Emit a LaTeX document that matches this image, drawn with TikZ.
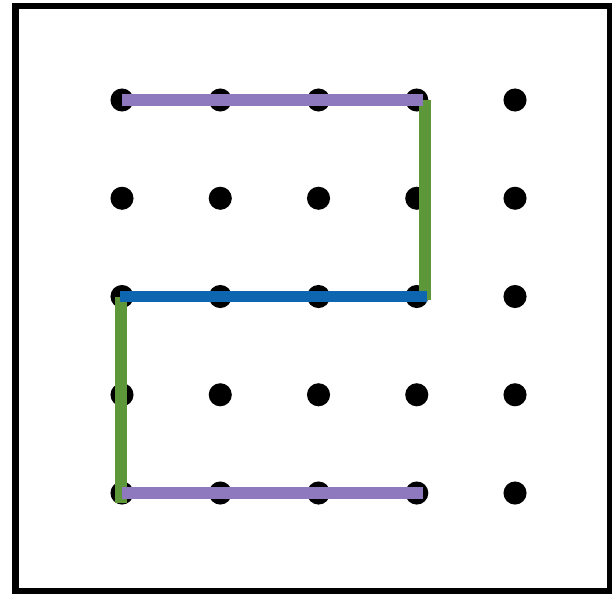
\documentclass[tikz,border=0pt]{standalone}
\usepackage{xcolor}
\usepackage{tikz}

\definecolor{lav}{RGB}{142,120,190}
\definecolor{grn}{RGB}{94,150,58}
\definecolor{blu}{RGB}{14,102,176}

\begin{document}
\begin{tikzpicture}[x=1cm,y=-1cm,
  pin/.style={circle,fill=black,minimum size=2.35mm,inner sep=0pt},
  frame/.style={draw=black,line width=2pt},
  band/.style={line width=3.4pt}]
  \useasboundingbox (-1.2417,-1.0178) rectangle (4.987,5.0687);
  % board edge
  \draw[frame] (-1.084,-0.957) rectangle (4.967,4.997);
  % 5 x 5 pins, column then row
  \node[pin] (p00) at (0,0) {}; \node[pin] (p10) at (1,0) {}; \node[pin] (p20) at (2,0) {}; \node[pin] (p30) at (3,0) {}; \node[pin] (p40) at (4,0) {};
  \node[pin] (p01) at (0,1) {}; \node[pin] (p11) at (1,1) {}; \node[pin] (p21) at (2,1) {}; \node[pin] (p31) at (3,1) {}; \node[pin] (p41) at (4,1) {};
  \node[pin] (p02) at (0,2) {}; \node[pin] (p12) at (1,2) {}; \node[pin] (p22) at (2,2) {}; \node[pin] (p32) at (3,2) {}; \node[pin] (p42) at (4,2) {};
  \node[pin] (p03) at (0,3) {}; \node[pin] (p13) at (1,3) {}; \node[pin] (p23) at (2,3) {}; \node[pin] (p33) at (3,3) {}; \node[pin] (p43) at (4,3) {};
  \node[pin] (p04) at (0,4) {}; \node[pin] (p14) at (1,4) {}; \node[pin] (p24) at (2,4) {}; \node[pin] (p34) at (3,4) {}; \node[pin] (p44) at (4,4) {};
  % rubber bands
  \draw[band,grn] ([xshift=0.084cm]p30.center) -- ([xshift=0.084cm,yshift=-0.036cm]p32.center);
  \draw[band,lav] (p00.center) -- ([xshift=0.064cm]p30.center);
  \draw[band,grn] ([xshift=-0.01cm]p02.center) -- ([xshift=-0.01cm,yshift=-0.1cm]p04.center);
  \draw[band,blu] ([xshift=-0.02cm]p02.center) -- ([xshift=0.104cm]p32.center);
  \draw[band,lav] (p04.center) -- ([xshift=0.064cm]p34.center);
\end{tikzpicture}
\end{document}
